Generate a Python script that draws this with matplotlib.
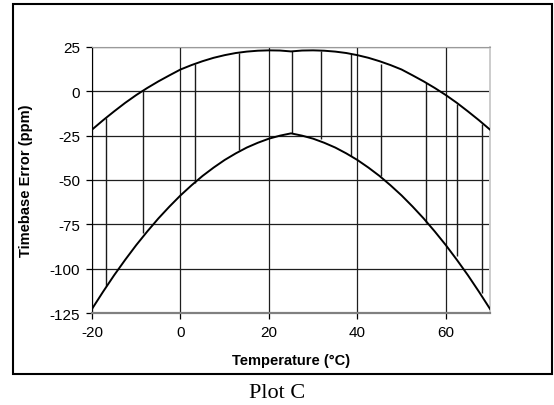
import matplotlib
matplotlib.use("Agg")
import matplotlib.pyplot as plt
from matplotlib.patches import Rectangle

plt.rcParams['font.family'] = ['Liberation Sans', 'DejaVu Sans']
plt.rcParams['axes.unicode_minus'] = False

# curves (every 2.5 degC)
temps = [-20, -17.5, -15, -12.5, -10, -7.5, -5, -2.5, 0, 2.5, 5, 7.5, 10,
         12.5, 15, 17.5, 20, 22.5, 25, 27.5, 30, 32.5, 35, 37.5, 40, 42.5,
         45, 47.5, 50, 52.5, 55, 57.5, 60, 62.5, 65, 67.5, 70]
upper = [-21.6, -16.3, -11.3, -6.5, -2.1, 1.9, 5.6, 9.0, 12.3, 14.8, 17.0,
         18.9, 20.4, 21.6, 22.4, 22.9, 23.1, 23.0, 22.5, 23.0, 23.1, 22.9,
         22.4, 21.6, 20.4, 18.9, 17.0, 14.8, 12.3, 9.0, 5.6, 1.9, -2.1,
         -6.5, -11.3, -16.3, -21.6]
lower = [-122.7, -113.0, -103.7, -95.0, -86.7, -79.0, -71.7, -65.0, -58.7,
         -53.0, -47.7, -43.0, -38.7, -35.0, -31.7, -29.0, -26.7, -25.0,
         -23.7, -25.0, -26.7, -29.0, -31.7, -35.0, -38.7, -43.0, -47.7,
         -53.0, -58.7, -65.0, -71.7, -79.0, -86.7, -95.0, -103.7, -113.0,
         -122.7]

# measured spreads (vertical bars)
bar_t = [-16.8, -8.4, 3.2, 13.3, 25.3, 31.7, 38.6, 45.3, 55.6, 62.6, 68.3]
bar_top = [-14.8, 0.0, 15.2, 21.8, 22.5, 22.7, 21.2, 15.6, 4.8, -7.1, -18.4]
bar_bot = [-109.9, -79.7, -51.8, -32.9, -23.7, -26.9, -36.3, -47.6, -74.1,
           -92.9, -113.7]

x_ticks = [-20, 0, 20, 40, 60]
y_ticks = [25, 0, -25, -50, -75, -100, -125]

fig = plt.figure(figsize=(5.54, 4.06), dpi=100)
ax = fig.add_axes([0.1661, 0.2266, 0.7184, 0.6552])

ax.vlines(bar_t, bar_bot, bar_top, color='#1a1a1a', lw=1.0, zorder=3)
ax.plot(temps, upper, color='black', lw=1.4, zorder=4)
ax.plot(temps, lower, color='black', lw=1.4, zorder=4)

ax.set_xlim(-20, 70)
ax.set_ylim(-125, 25)
ax.set_xticks(x_ticks)
ax.set_yticks(y_ticks)
ax.grid(True, color='#1e1e1e', lw=0.9, zorder=1)
ax.tick_params(direction='out', length=4.5, width=0.9, color='black',
               labelsize=11, pad=4)

ax.spines['left'].set_color('black')
ax.spines['bottom'].set_color('#808080')
ax.spines['bottom'].set_linewidth(1.6)
ax.spines['top'].set_color('#9a9a9a')
ax.spines['right'].set_color('#cccccc')
ax.spines['right'].set_linewidth(1.4)

ax.set_xlabel('Temperature (°C)', fontsize=10.5, fontweight='bold')
ax.set_ylabel('Timebase Error (ppm)', fontsize=10.5, fontweight='bold')
ax.xaxis.set_label_coords(0.5, -0.15)
ax.yaxis.set_label_coords(-0.148, 0.5)

# outer chart frame
fig.patches.append(Rectangle((0.0235, 0.0764), 0.9729, 0.9113,
                             transform=fig.transFigure, fill=False,
                             edgecolor='black', lw=1.5))

fig.text(0.5, 0.032, 'Plot C', ha='center', va='center', fontsize=16,
         family=['Liberation Serif', 'DejaVu Serif'])

fig.savefig('out.png', dpi=100)
